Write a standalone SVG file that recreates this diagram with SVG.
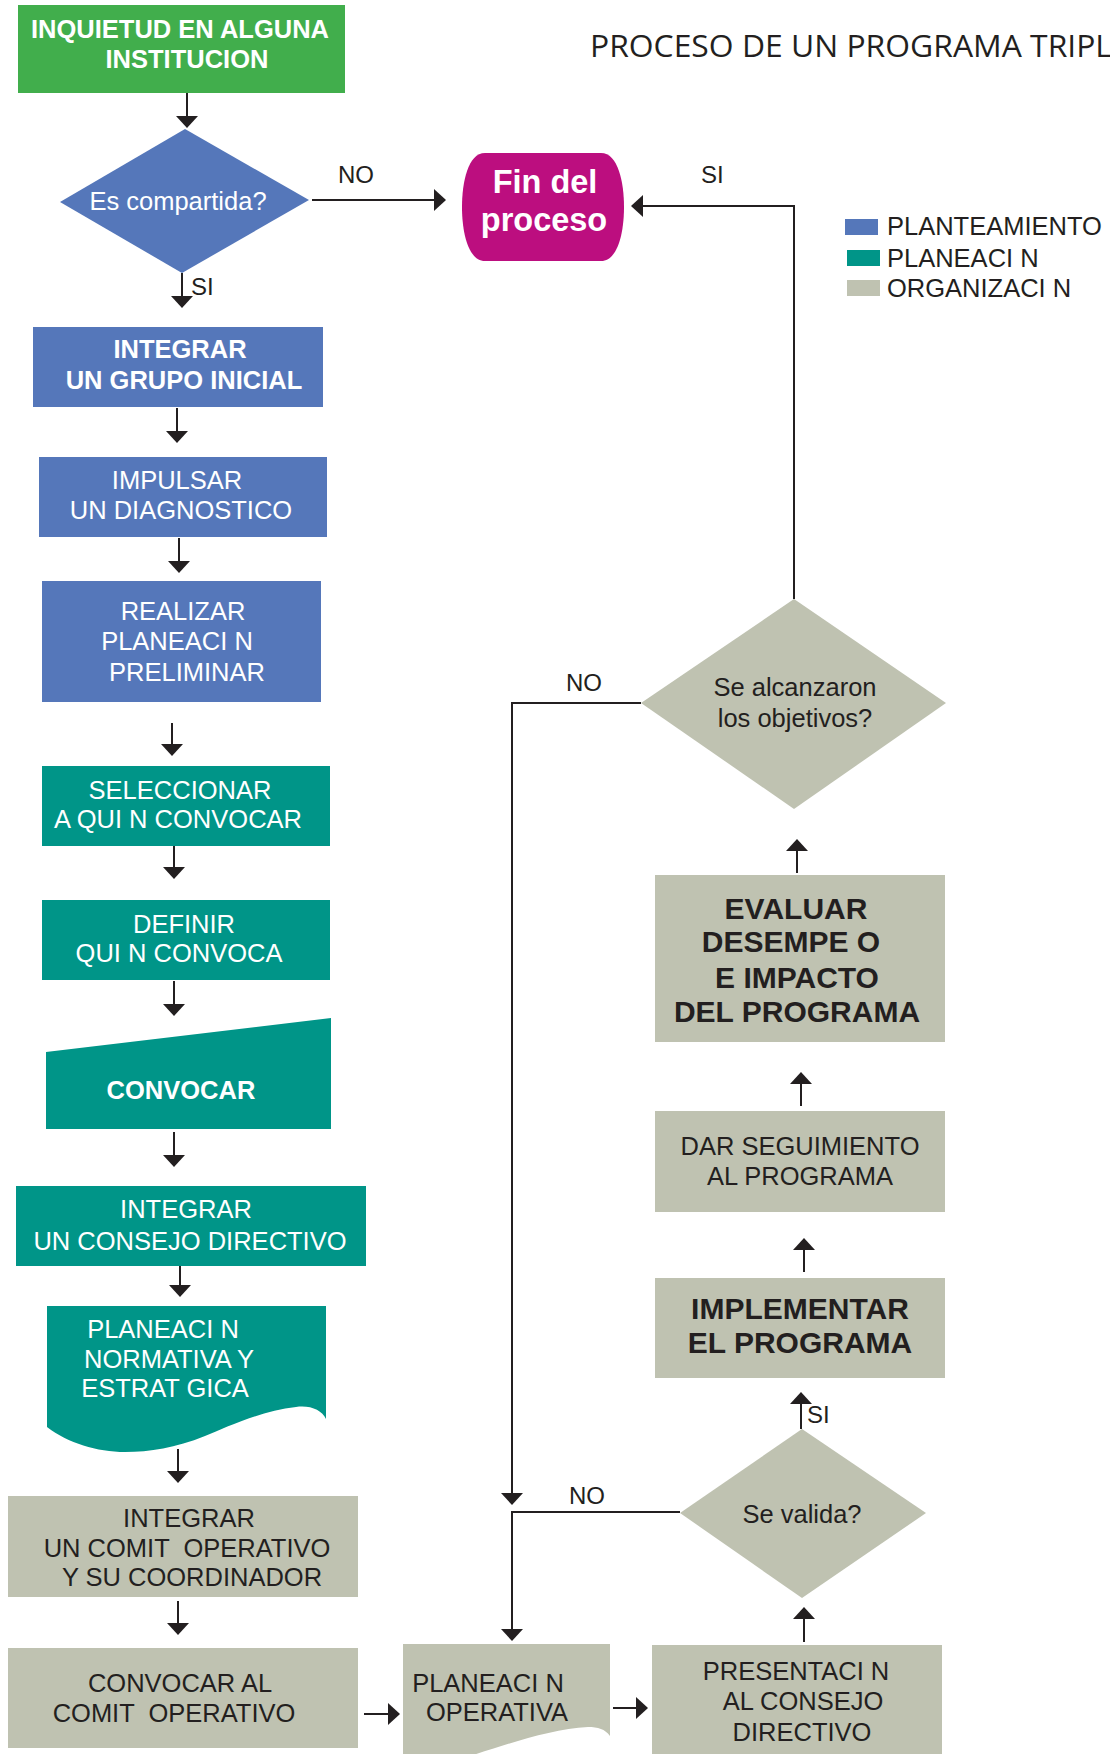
<svg xmlns="http://www.w3.org/2000/svg" width="1110" height="1754" viewBox="0 0 1110 1754">
<style>
text{font-family:"Liberation Sans",Arial,sans-serif;font-size:25.5px;text-anchor:middle}
.w{fill:#fff}
.wb{fill:#fff;font-weight:bold}
.d{fill:#231F20}
.db{fill:#231F20;font-weight:bold;font-size:30px}
.lbl{fill:#231F20;font-size:24px;text-anchor:start}
.leg{fill:#231F20;font-size:25.5px;text-anchor:start}
.blue{fill:#5577BA}
.teal{fill:#009588}
.gray{fill:#BFC2B1}
.con{fill:none;stroke:#231F20;stroke-width:2;marker-end:url(#ah)}
</style>
<defs>
<marker id="ah" viewBox="0 0 12 22" refX="4" refY="11" markerWidth="12" markerHeight="22" markerUnits="userSpaceOnUse" orient="auto"><path d="M0,0 L12,11 L0,22 Z" fill="#231F20"/></marker>
</defs>
<rect width="1110" height="1754" fill="#fff"/>

<text x="590" y="57" style="font-family:'Open Sans','Noto Sans',sans-serif;font-size:31px;text-anchor:start" fill="#231F20" textLength="522" lengthAdjust="spacingAndGlyphs">PROCESO DE UN PROGRAMA TRIPL</text>

<g id="legend">
<rect x="845" y="219" width="33" height="16" class="blue"/>
<rect x="847" y="250" width="33" height="16" class="teal"/>
<rect x="847" y="280" width="33" height="16" class="gray"/>
<text x="887" y="235" class="leg">PLANTEAMIENTO</text>
<text x="887" y="267" class="leg">PLANEACI N</text>
<text x="887" y="297" class="leg">ORGANIZACI N</text>
</g>

<g id="connectors">
<path class="con" d="M187,93 V120"/>
<path class="con" d="M312,200 H438"/>
<path class="con" d="M182,273 V300"/>
<path class="con" d="M177,408 V435"/>
<path class="con" d="M179,538 V565"/>
<path class="con" d="M172,723 V748"/>
<path class="con" d="M174,846 V871"/>
<path class="con" d="M174,981 V1008"/>
<path class="con" d="M174,1132 V1159"/>
<path class="con" d="M180,1266 V1289"/>
<path class="con" d="M178,1449 V1475"/>
<path class="con" d="M178,1601 V1627"/>
<path class="con" d="M364,1714 H392"/>
<path class="con" d="M613,1708 H640"/>
<path class="con" d="M804,1642 V1615"/>
<path class="con" d="M801,1429 V1400"/>
<path class="con" d="M804,1272 V1246"/>
<path class="con" d="M801,1106 V1080"/>
<path class="con" d="M797,873 V847"/>
<path class="con" d="M794,599 V206 H639"/>
<path class="con" d="M641,703 H512 V1497"/>
<path class="con" d="M680,1512 H512 V1633"/>
<text x="338" y="183" class="lbl">NO</text>
<text x="191" y="295" class="lbl">SI</text>
<text x="701" y="183" class="lbl">SI</text>
<text x="566" y="691" class="lbl">NO</text>
<text x="569" y="1504" class="lbl">NO</text>
<text x="807" y="1423" class="lbl">SI</text>
</g>

<g id="n-inquietud">
<rect x="18" y="5" width="327" height="88" fill="#41AE4C"/>
<text x="180" y="38" class="wb">INQUIETUD EN ALGUNA</text>
<text x="187" y="68" class="wb">INSTITUCION</text>
</g>

<g id="n-compartida">
<polygon points="60,202 185,129 309,200 182,273" class="blue"/>
<text x="178" y="210" class="w">Es compartida?</text>
</g>

<g id="n-fin">
<path d="M485,153 H601 C618,153 624,182 624,207 C624,232 618,261 601,261 H485 C468,261 462,232 462,207 C462,182 468,153 485,153 Z" fill="#BC0E7F"/>
<text x="545" y="193" class="wb" style="font-size:32.5px">Fin del</text>
<text x="544" y="231" class="wb" style="font-size:32.5px">proceso</text>
</g>

<g id="n-grupo">
<rect x="33" y="327" width="290" height="80" class="blue"/>
<text x="180" y="358" class="wb">INTEGRAR</text>
<text x="184" y="389" class="wb">UN GRUPO INICIAL</text>
</g>

<g id="n-diagnostico">
<rect x="39" y="457" width="288" height="80" class="blue"/>
<text x="177" y="489" class="w">IMPULSAR</text>
<text x="181" y="519" class="w">UN DIAGNOSTICO</text>
</g>

<g id="n-preliminar">
<rect x="42" y="581" width="279" height="121" class="blue"/>
<text x="183" y="620" class="w">REALIZAR</text>
<text x="177" y="650" class="w">PLANEACI N</text>
<text x="187" y="681" class="w">PRELIMINAR</text>
</g>

<g id="n-seleccionar">
<rect x="42" y="766" width="288" height="80" class="teal"/>
<text x="180" y="799" class="w">SELECCIONAR</text>
<text x="178" y="828" class="w">A QUI N CONVOCAR</text>
</g>

<g id="n-definir">
<rect x="42" y="900" width="288" height="80" class="teal"/>
<text x="184" y="933" class="w">DEFINIR</text>
<text x="179" y="962" class="w">QUI N CONVOCA</text>
</g>

<g id="n-convocar">
<polygon points="46,1052 331,1018 331,1129 46,1129" class="teal"/>
<text x="181" y="1099" class="wb">CONVOCAR</text>
</g>

<g id="n-consejo">
<rect x="16" y="1186" width="350" height="80" class="teal"/>
<text x="186" y="1218" class="w">INTEGRAR</text>
<text x="190" y="1250" class="w">UN CONSEJO DIRECTIVO</text>
</g>

<g id="n-normativa">
<path d="M47,1306 H326 V1419 C322,1410 310,1405 296,1407 C260,1411 225,1428 205,1436 C175,1448 150,1452 125,1452 C97,1452 68,1443 47,1427 Z" class="teal"/>
<text x="163" y="1338" class="w">PLANEACI N</text>
<text x="169" y="1368" class="w">NORMATIVA Y</text>
<text x="165" y="1397" class="w">ESTRAT GICA</text>
</g>

<g id="n-comite">
<rect x="8" y="1496" width="350" height="101" class="gray"/>
<text x="189" y="1527" class="d">INTEGRAR</text>
<text x="187" y="1557" class="d" xml:space="preserve">UN COMIT  OPERATIVO</text>
<text x="192" y="1586" class="d">Y SU COORDINADOR</text>
</g>

<g id="n-convocar-comite">
<rect x="8" y="1648" width="350" height="100" class="gray"/>
<text x="180" y="1692" class="d">CONVOCAR AL</text>
<text x="174" y="1722" class="d" xml:space="preserve">COMIT  OPERATIVO</text>
</g>

<g id="n-operativa">
<path d="M403,1644 H610 V1736 C605,1729 598,1727 588,1727 C550,1729 505,1745 470,1756 L403,1756 Z" class="gray"/>
<text x="488" y="1692" class="d">PLANEACI N</text>
<text x="497" y="1721" class="d">OPERATIVA</text>
</g>

<g id="n-presentacion">
<rect x="652" y="1645" width="290" height="112" class="gray"/>
<text x="796" y="1680" class="d">PRESENTACI N</text>
<text x="803" y="1710" class="d">AL CONSEJO</text>
<text x="802" y="1741" class="d">DIRECTIVO</text>
</g>

<g id="n-valida">
<polygon points="680,1513 802,1429 926,1513 802,1598" class="gray"/>
<text x="802" y="1523" class="d">Se valida?</text>
</g>

<g id="n-implementar">
<rect x="655" y="1278" width="290" height="100" class="gray"/>
<text x="800" y="1319" class="db">IMPLEMENTAR</text>
<text x="800" y="1353" class="db">EL PROGRAMA</text>
</g>

<g id="n-seguimiento">
<rect x="655" y="1111" width="290" height="101" class="gray"/>
<text x="800" y="1155" class="d">DAR SEGUIMIENTO</text>
<text x="800" y="1185" class="d">AL PROGRAMA</text>
</g>

<g id="n-evaluar">
<rect x="655" y="875" width="290" height="167" class="gray"/>
<text x="796" y="919" class="db">EVALUAR</text>
<text x="791" y="952" class="db">DESEMPE O</text>
<text x="797" y="988" class="db">E IMPACTO</text>
<text x="797" y="1022" class="db">DEL PROGRAMA</text>
</g>

<g id="n-objetivos">
<polygon points="641,703 794,599 946,703 794,809" class="gray"/>
<text x="795" y="696" class="d">Se alcanzaron</text>
<text x="795" y="727" class="d">los objetivos?</text>
</g>
</svg>
